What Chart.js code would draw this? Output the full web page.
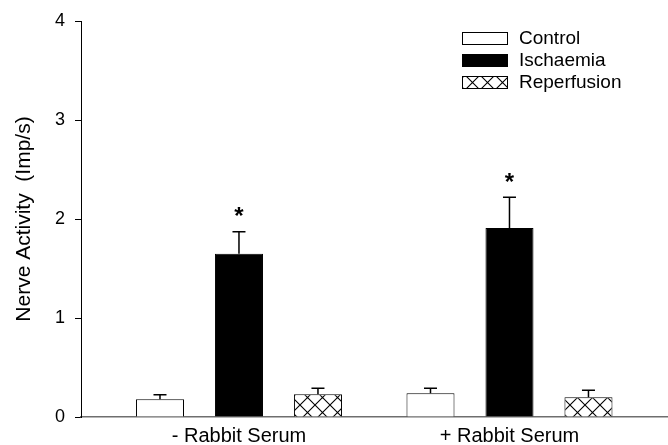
<!DOCTYPE html>
<html>
<head>
<meta charset="utf-8">
<script src="https://cdn.jsdelivr.net/npm/chart.js@4/dist/chart.umd.min.js"></script>
<style>
  html, body { margin: 0; padding: 0; background: #fff; }
  #wrap { width: 668px; height: 445px; }
</style>
</head>
<body>
<div id="wrap"><canvas id="c" width="668" height="445"></canvas></div>
<script>
// Groups along the x axis
const categories = ['- Rabbit Serum', '+ Rabbit Serum'];
// Mean nerve activity (Imp/s) per condition
const seriesNames = ['Control', 'Ischaemia', 'Reperfusion'];
const controlValues = [0.18, 0.24];
const ischaemiaValues = [1.65, 1.91];
const reperfusionValues = [0.23, 0.20];
// Standard errors (upper whisker only)
const controlErrors = [0.045, 0.05];
const ischaemiaErrors = [0.22, 0.31];
const reperfusionErrors = [0.06, 0.07];
// Significance markers
const ischaemiaMarks = ['*', '*'];
// Y axis ticks
const yTicks = [0, 1, 2, 3, 4];

const FONT = "'Liberation Sans', Arial, Helvetica, sans-serif";

// Cross-hatch fill
function makeHatch() {
  const s = 15;
  const pc = document.createElement('canvas');
  pc.width = s; pc.height = s;
  const g = pc.getContext('2d');
  g.fillStyle = '#fff';
  g.fillRect(0, 0, s, s);
  g.strokeStyle = '#000';
  g.lineWidth = 1.1;
  g.beginPath();
  g.moveTo(-1, -1); g.lineTo(s + 1, s + 1);
  g.moveTo(s + 1, -1); g.lineTo(-1, s + 1);
  g.stroke();
  return g.createPattern(pc, 'repeat');
}
const hatch = makeHatch();

function toPoints(vals) {
  return vals.map((v, i) => ({ x: i + 1, y: v }));
}

const ctx = document.getElementById('c').getContext('2d');

// Whiskers and significance markers above the bars
const errorBarPlugin = {
  id: 'errorBars',
  afterDatasetsDraw(chart) {
    const g = chart.ctx;
    const yScale = chart.scales.y;
    chart.data.datasets.forEach((ds, di) => {
      const meta = chart.getDatasetMeta(di);
      meta.data.forEach((bar, i) => {
        const v = ds.data[i].y;
        const e = ds.errors[i];
        const yTop = yScale.getPixelForValue(v + e);
        const yBase = yScale.getPixelForValue(v);
        g.save();
        g.strokeStyle = '#000';
        g.lineWidth = 1.5;
        g.beginPath();
        g.moveTo(bar.x, yBase);
        g.lineTo(bar.x, yTop);
        g.moveTo(bar.x - 6.5, yTop);
        g.lineTo(bar.x + 6.5, yTop);
        g.stroke();
        if (ds.marks && ds.marks[i]) {
          g.fillStyle = '#000';
          g.font = 'bold 24px ' + FONT;
          g.textAlign = 'center';
          g.textBaseline = 'middle';
          g.fillText(ds.marks[i], bar.x, yTop - 14);
        }
        g.restore();
      });
    });
  }
};

// Legend box in the upper right of the plot
const legendPlugin = {
  id: 'boxLegend',
  afterDraw(chart) {
    const g = chart.ctx;
    const x0 = 462, y0 = 32, boxW = 45, boxH = 12, step = 22;
    chart.data.datasets.forEach((ds, i) => {
      const y = y0 + i * step;
      g.save();
      g.fillStyle = ds.backgroundColor;
      g.fillRect(x0, y, boxW, boxH);
      g.strokeStyle = '#000';
      g.lineWidth = 1;
      g.strokeRect(x0 + 0.5, y + 0.5, boxW, boxH);
      g.fillStyle = '#000';
      g.font = '19px ' + FONT;
      g.textAlign = 'left';
      g.textBaseline = 'middle';
      g.fillText(ds.label, x0 + 57, y + boxH / 2 + 1);
      g.restore();
    });
  }
};

new Chart(ctx, {
  type: 'bar',
  data: {
    datasets: [
      { label: seriesNames[0], data: toPoints(controlValues), errors: controlErrors,
        backgroundColor: '#ffffff' },
      { label: seriesNames[1], data: toPoints(ischaemiaValues), errors: ischaemiaErrors,
        marks: ischaemiaMarks, backgroundColor: '#000000' },
      { label: seriesNames[2], data: toPoints(reperfusionValues), errors: reperfusionErrors,
        backgroundColor: hatch }
    ]
  },
  options: {
    responsive: false,
    animation: false,
    devicePixelRatio: 1,
    layout: { padding: { top: 21, right: 0, bottom: 0, left: 0 } },
    datasets: {
      bar: {
        borderColor: '#000',
        borderWidth: 1,
        categoryPercentage: 0.876,
        barPercentage: 0.608
      }
    },
    plugins: {
      legend: { display: false },
      tooltip: { enabled: false }
    },
    scales: {
      x: {
        type: 'linear',
        offset: false,
        min: 0.416,
        max: 2.586,
        afterBuildTicks(scale) {
          scale.ticks = categories.map((_, i) => ({ value: i + 1 }));
        },
        afterFit(scale) { scale.height = 28; },
        grid: { display: false, drawTicks: false, offset: false },
        border: { display: true, color: '#6e6e6e', width: 1.5 },
        ticks: {
          color: '#000',
          font: { family: FONT, size: 20 },
          padding: 7,
          maxRotation: 0,
          autoSkip: false,
          callback: (v) => categories[v - 1] || ''
        }
      },
      y: {
        min: yTicks[0],
        max: yTicks[yTicks.length - 1],
        afterBuildTicks(scale) {
          scale.ticks = yTicks.map(v => ({ value: v }));
        },
        afterFit(scale) { scale.width = 81; },
        grid: { drawOnChartArea: false, drawTicks: true, tickLength: 6, color: '#000', lineWidth: 1 },
        border: { display: true, color: '#000', width: 1 },
        ticks: {
          color: '#000',
          font: { family: FONT, size: 18 },
          padding: 10
        },
        title: {
          display: true,
          text: 'Nerve Activity  (Imp/s)',
          color: '#000',
          font: { family: FONT, size: 21 },
          padding: { top: 12, bottom: 0 }
        }
      }
    }
  },
  plugins: [errorBarPlugin, legendPlugin]
});
</script>
</body>
</html>
